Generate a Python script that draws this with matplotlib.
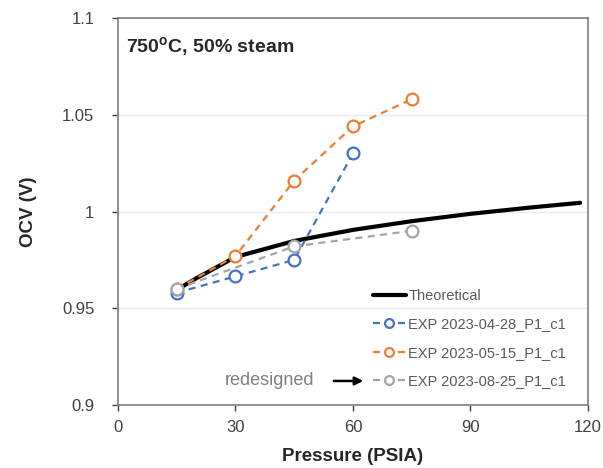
import matplotlib
matplotlib.use("Agg")
import matplotlib.pyplot as plt

plt.rcParams['font.family'] = ['Liberation Sans', 'DejaVu Sans']
plt.rcParams['mathtext.fontset'] = 'custom'
plt.rcParams['mathtext.rm'] = 'Liberation Sans'
plt.rcParams['mathtext.bf'] = 'Liberation Sans:bold'

# Theoretical OCV curve (read at several pressures)
theo_p = [15, 20, 30, 45, 60, 75, 90, 105, 118]
theo_v = [0.9595, 0.9655, 0.9765, 0.9848, 0.9905, 0.9950, 0.9988, 1.0020, 1.0045]

# Experimental runs
exp1_p = [15, 30, 45, 60]
exp1_v = [0.958, 0.9665, 0.975, 1.030]
exp2_p = [15, 30, 45, 60, 75]
exp2_v = [0.960, 0.977, 1.016, 1.044, 1.058]
exp3_p = [15, 45, 75]
exp3_v = [0.960, 0.982, 0.990]

labels = ["Theoretical", "EXP 2023-04-28_P1_c1", "EXP 2023-05-15_P1_c1", "EXP 2023-08-25_P1_c1"]
colors = ["#000000", "#4472C4", "#ED7D31", "#A5A5A5"]

xticks = [0, 30, 60, 90, 120]
yticks = [0.9, 0.95, 1.0, 1.05, 1.1]
yticklabels = ["0.9", "0.95", "1", "1.05", "1.1"]

fig = plt.figure(figsize=(6.03, 4.68), dpi=100)
ax = fig.add_axes([0.1957, 0.1346, 0.7793, 0.8269])

ax.plot(theo_p, theo_v, color=colors[0], lw=3.0, solid_capstyle='round',
        label=labels[0], zorder=3)
for p, v, c, lab, z in [(exp1_p, exp1_v, colors[1], labels[1], 4),
                        (exp2_p, exp2_v, colors[2], labels[2], 5),
                        (exp3_p, exp3_v, colors[3], labels[3], 6)]:
    ax.plot(p, v, color=c, lw=1.6, ls=(0, (3.2, 2.4)), marker='o',
            markersize=8.5, markerfacecolor='white', markeredgecolor=c,
            markeredgewidth=1.6, label=lab, zorder=z)

ax.set_xlim(0, 120)
ax.set_ylim(0.9, 1.1)
ax.set_xticks(xticks)
ax.set_yticks(yticks)
ax.set_yticklabels(yticklabels)
ax.tick_params(axis='both', labelsize=12, colors='#404040', length=4,
               width=1, direction='out')
ax.tick_params(axis='y', pad=13)
ax.tick_params(axis='x', pad=7)
for s in ax.spines.values():
    s.set_color('#7f7f7f')
    s.set_linewidth(1.2)
ax.grid(axis='y', color='#ebebeb', lw=1)
ax.set_axisbelow(True)

ax.set_xlabel("Pressure (PSIA)", fontsize=13.5, fontweight='bold', color='#262626', labelpad=9)
ax.set_ylabel("OCV (V)", fontsize=13.5, fontweight='bold', color='#262626', labelpad=18)

ax.text(0.018, 0.925, r"750$^{\mathbf{o}}$C, 50% steam", transform=ax.transAxes,
        fontsize=14, fontweight='bold', color='#262626', va='center', ha='left')

leg = ax.legend(loc='upper left', bbox_to_anchor=(0.618, 0.383),
                bbox_transform=fig.transFigure, frameon=False, fontsize=10.5,
                handlelength=2.3, handletextpad=0.15, labelspacing=1.0,
                markerscale=0.75, borderaxespad=0, borderpad=0)
for t in leg.get_texts():
    t.set_color('#595959')

fig.text(0.447, 0.186, "redesigned", fontsize=13, color='#7f7f7f',
         ha='center', va='center')
ax.annotate("", xy=(0.607, 0.186), xytext=(0.549, 0.186), xycoords='figure fraction',
            textcoords='figure fraction',
            arrowprops=dict(arrowstyle='-|>', color='black', lw=1.8, mutation_scale=12))

fig.savefig("out.png", dpi=100)
